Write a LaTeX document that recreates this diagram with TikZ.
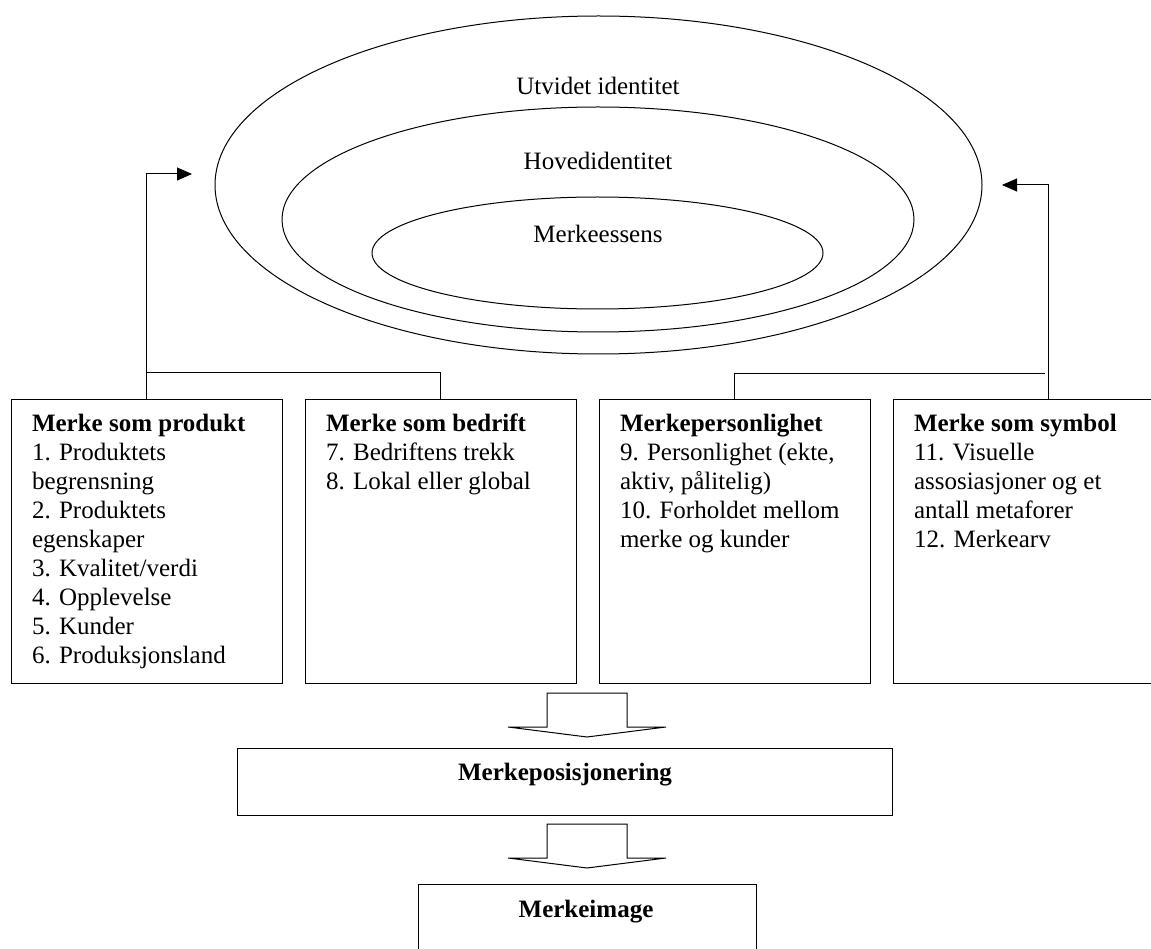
\documentclass[tikz,border=0pt]{standalone}
\usepackage{fontspec}
\setmainfont{Liberation Serif}
\usetikzlibrary{arrows.meta,positioning,shapes.geometric}

\begin{document}
\begin{tikzpicture}[
  x=1pt, y=-1pt,
  font=\fontsize{25}{29}\selectfont,
  line width=1pt,
  ring/.style={ellipse, draw, inner sep=0pt},
  ringlabel/.style={anchor=base},
  cbox/.style={rectangle, draw, minimum width=271pt, minimum height=284pt, inner sep=0pt},
  ctext/.style={anchor=north west, align=left, inner sep=0pt},
  resbox/.style={rectangle, draw, inner sep=0pt},
  arr/.style={-{Triangle[length=15pt,width=13pt]}},
  dnarrow/.pic={\draw (-40,0) -- (-40,34) -- (-79,34) -- (0,44) -- (79,34) -- (40,34) -- (40,0) -- cycle;}
]
\useasboundingbox (0,0) rectangle (1151,949);

% identity rings
\node[ring, minimum width=767pt, minimum height=338pt] (eUtv) at (598.5,185) {};
\node[ring, minimum width=632pt, minimum height=225pt] (eHov) at (598,219.5) {};
\node[ring, minimum width=451pt, minimum height=112pt] (eMer) at (597.5,253) {};
\node[ringlabel] (lUtv) at (598,95) {Utvidet identitet};
\node[ringlabel] (lHov) at (598,170) {Hovedidentitet};
\node[ringlabel] (lMer) at (598,243) {Merkeessens};

% the four perspectives
\node[cbox] (b1) at (146.5,541.5) {};
\node[cbox, right=22pt of b1] (b2) {};
\node[cbox, right=22pt of b2] (b3) {};
\node[cbox, right=22pt of b3, minimum width=310pt] (b4) {};

\node[ctext] (t1) at ([xshift=21pt,yshift=-14.5pt]b1.north west) {\textbf{Merke som produkt}\\1. Produktets\\begrensning\\2. Produktets\\egenskaper\\3. Kvalitet/verdi\\4. Opplevelse\\5. Kunder\\6. Produksjonsland};
\node[ctext] (t2) at ([xshift=21pt,yshift=-14.5pt]b2.north west) {\textbf{Merke som bedrift}\\7. Bedriftens trekk\\8. Lokal eller global};
\node[ctext] (t3) at ([xshift=21pt,yshift=-14.5pt]b3.north west) {\textbf{Merkepersonlighet}\\9. Personlighet (ekte,\\aktiv, pålitelig)\\10. Forholdet mellom\\merke og kunder};
\node[ctext] (t4) at ([xshift=21pt,yshift=-14.5pt]b4.north west) {\textbf{Merke som symbol}\\11. Visuelle\\assosiasjoner og et\\antall metaforer\\12. Merkearv};

% connectors up to the rings
\coordinate (tipL) at (192,174);
\coordinate (tipR) at (1002,185);
\coordinate (jL) at (146.5,373);
\coordinate (jR) at (1045,374);
\draw[arr] (b1.north) |- (tipL);
\draw (b2.north) |- (jL);
\draw (b3.north) |- (jR);
\draw[arr] (b4.north) |- (tipR);

% positioning and image
\pic at (587,693) {dnarrow};
\node[resbox, minimum width=655pt, minimum height=67pt] (pos) at (564.5,781.5) {};
\node[anchor=base] (tpos) at (565,780) {\textbf{Merkeposisjonering}};
\pic at (587,824) {dnarrow};
\node[resbox, minimum width=338pt, minimum height=106pt, anchor=north] (img) at (587,884) {};
\node[anchor=base] (timg) at (586,917) {\textbf{Merkeimage}};
\end{tikzpicture}
\end{document}
